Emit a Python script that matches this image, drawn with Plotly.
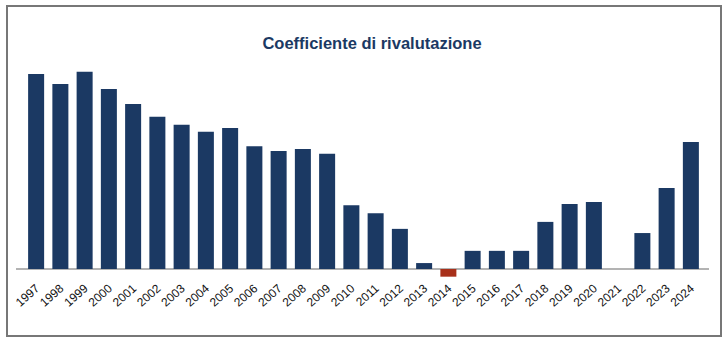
import plotly.graph_objects as go

years = [str(y) for y in range(1997, 2025)]
values = [5.587, 5.30, 5.65, 5.16, 4.73, 4.36, 4.13, 3.93, 4.04, 3.52, 3.38, 3.44, 3.30,
          1.83, 1.60, 1.15, 0.17, -0.22, 0.52, 0.52, 0.52, 1.35, 1.86, 1.92, 0.0, 1.03, 2.32, 3.64]
title_text = "Coefficiente di rivalutazione"

navy = "#1B3963"
red = "#A8301A"
colors = [red if v < 0 else navy for v in values]

fig = go.Figure(go.Bar(x=years, y=values, marker=dict(color=colors, line=dict(width=0)), width=0.66))

W, H = 728, 343
L, R, T, B = 24, 25, 60, 65
pw, ph = W - L - R, H - T - B

def px_x(p):
    return (p - L) / pw

def px_y(p):
    return (H - B - p) / ph

ymin = -(H - B - 269) / 34.9
ymax = ymin + ph / 34.9

fig.update_layout(
    width=W, height=H,
    margin=dict(l=L, r=R, t=T, b=B),
    paper_bgcolor="white", plot_bgcolor="white",
    showlegend=False,
    font=dict(family="Liberation Sans, Arial, sans-serif", color="#1a1a2e", size=12),
    title=dict(text="<b>" + title_text + "</b>", x=px_x(372), xref="paper", xanchor="center",
               y=1 - 43 / H, yanchor="middle",
               font=dict(size=16.5, color=navy, family="Liberation Sans, Arial, sans-serif")),
    xaxis=dict(type="category", tickangle=-42, showgrid=False, showline=False, ticks="",
               tickfont=dict(size=12, color="#111111")),
    yaxis=dict(range=[ymin, ymax], visible=False, showgrid=False, zeroline=False),
    shapes=[
        dict(type="rect", xref="paper", yref="paper",
             x0=px_x(7), x1=px_x(721), y0=px_y(336), y1=px_y(6),
             line=dict(color="#777777", width=2), layer="below"),
        dict(type="line", xref="paper", yref="y",
             x0=px_x(16), x1=px_x(709), y0=0, y1=0,
             line=dict(color="#9a9a9a", width=1.5), layer="below"),
    ],
)

fig.write_html("out.html")
